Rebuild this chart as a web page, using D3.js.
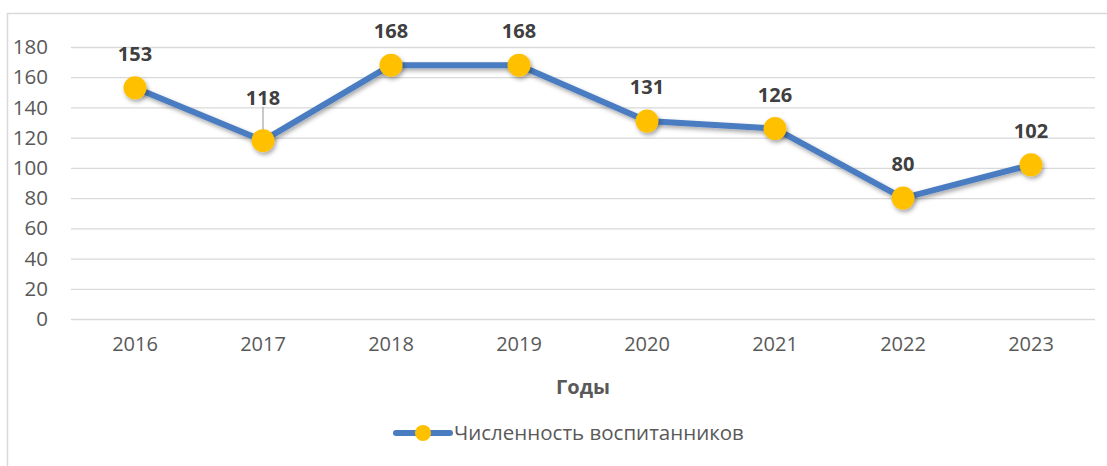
<!DOCTYPE html>
<html><head><meta charset="utf-8">
<script src="https://cdn.jsdelivr.net/npm/d3@7"></script>
<style>
html,body{margin:0;padding:0;background:#fff;}
svg{display:block;font-family:"Open Sans","Noto Sans",sans-serif;}
</style></head>
<body><svg id="c" width="1107" height="466"></svg>
<script>
const years = ["2016","2017","2018","2019","2020","2021","2022","2023"];
const values = [153,118,168,168,131,126,80,102];
const yTicks = [0,20,40,60,80,100,120,140,160,180];
const seriesName = "Численность воспитанников";
const axisTitle = "Годы";

const svg = d3.select("#c");
const x = d3.scaleBand().domain(years).range([71, 1095]);
const y = d3.scaleLinear().domain([0,180]).range([319, 47]);

const defs = svg.append("defs");
const f = defs.append("filter").attr("id","sh").attr("x","-20%").attr("y","-20%").attr("width","140%").attr("height","160%");
f.append("feDropShadow").attr("dx",1.5).attr("dy",2.5).attr("stdDeviation",2).attr("flood-color","#000").attr("flood-opacity",0.35);

// chart border (left & top)
svg.append("path").attr("d","M7.5,466 V13.5 H1107").attr("fill","none").attr("stroke","#d9d9d9").attr("stroke-width",1.5);

// gridlines
svg.append("g").attr("transform","translate(71,0)")
  .call(d3.axisLeft(y).tickValues(yTicks).tickSize(-(1095-71)).tickFormat(""))
  .call(g=>g.select(".domain").remove())
  .call(g=>g.selectAll("line").attr("stroke","#d9d9d9").attr("stroke-width",1.3));

// y labels
svg.append("g").attr("transform","translate(71,0)")
  .call(d3.axisLeft(y).tickValues(yTicks).tickSize(0).tickPadding(23))
  .call(g=>g.select(".domain").remove())
  .call(g=>g.selectAll("text").attr("fill","#595959").attr("font-size",20.5).attr("font-family","Open Sans"));

// x labels
svg.append("g").attr("transform","translate(0,319)")
  .call(d3.axisBottom(x).tickSize(0).tickPadding(18))
  .call(g=>g.select(".domain").remove())
  .call(g=>g.selectAll("text").attr("fill","#595959").attr("font-size",20).attr("font-family","Open Sans"));

// axis title
svg.append("text").attr("x",(71+1095)/2).attr("y",394).attr("text-anchor","middle")
  .attr("font-size",20).attr("font-weight","bold").attr("fill","#595959").text(axisTitle);

const cx = d => x(d)+x.bandwidth()/2;
const data = years.map((d,i)=>({year:d, v:values[i]}));

// leader line for 2017 label
svg.append("line").attr("x1",cx("2017")).attr("x2",cx("2017"))
  .attr("y1",y(118)-34).attr("y2",y(118)).attr("stroke","#a6a6a6").attr("stroke-width",1.2);

// line
svg.append("path").datum(data)
  .attr("d", d3.line().x(d=>cx(d.year)).y(d=>y(d.v)))
  .attr("fill","none").attr("stroke","#4a7cc0").attr("stroke-width",6).attr("stroke-linejoin","round")
  .attr("filter","url(#sh)");

// markers
svg.append("g").selectAll("circle").data(data).join("circle")
  .attr("cx",d=>cx(d.year)).attr("cy",d=>y(d.v)).attr("r",11.5)
  .attr("fill","#ffc000").attr("filter","url(#sh)");

// labels
const offs = {"2017":43};
svg.append("g").selectAll("text").data(data).join("text")
  .attr("x",d=>cx(d.year)).attr("y",d=>y(d.v)-(offs[d.year]||34)+7)
  .attr("text-anchor","middle").attr("font-size",20).attr("font-weight","bold")
  .attr("fill","#404040").text(d=>d.v);

// legend
const lg = svg.append("g");
lg.append("line").attr("x1",396).attr("x2",450).attr("y1",433).attr("y2",433)
  .attr("stroke","#4a7cc0").attr("stroke-width",6).attr("stroke-linecap","round");
lg.append("circle").attr("cx",423).attr("cy",433).attr("r",8).attr("fill","#ffc000");
lg.append("text").attr("x",454).attr("y",440).attr("font-size",20.5).attr("fill","#595959").text(seriesName);
</script></body></html>
